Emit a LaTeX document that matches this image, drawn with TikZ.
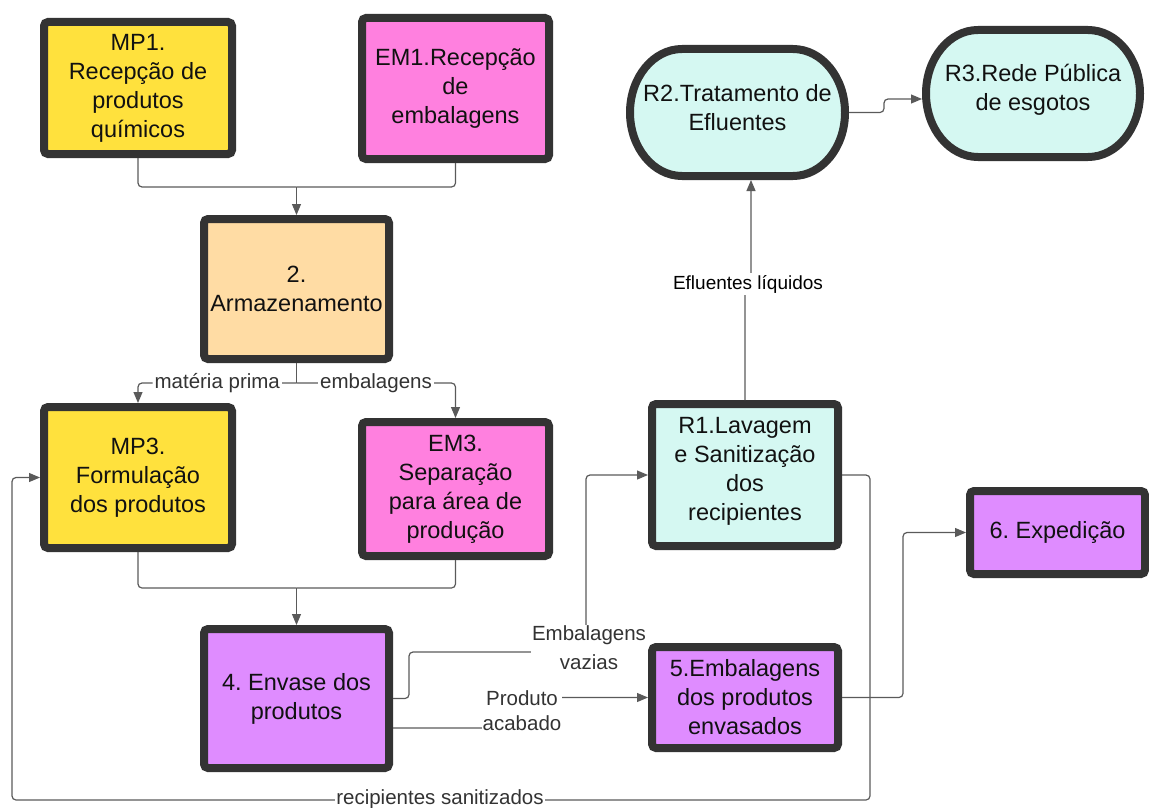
\documentclass[tikz,border=0pt]{standalone}
\usepackage{fontspec}
\setmainfont{Liberation Sans}
\usetikzlibrary{arrows.meta}
\definecolor{yel}{HTML}{FFE13D}
\definecolor{pnk}{HTML}{FF80DF}
\definecolor{org}{HTML}{FFDCA4}
\definecolor{cya}{HTML}{D5F8F2}
\definecolor{pur}{HTML}{DF8CFF}
\definecolor{bord}{HTML}{333333}
\definecolor{conc}{HTML}{5A5A5A}
\definecolor{labc}{HTML}{333333}
\definecolor{txtc}{HTML}{111111}
\frenchspacing
\tikzset{
  box/.style={draw=bord, line width=8pt, rounded corners=4pt, inner sep=0pt, outer sep=4pt,
    align=center, text=txtc, font=\fontsize{23.5}{29}\selectfont},
  term/.style={draw=bord, line width=8pt, fill=cya},
  termtext/.style={inner sep=0pt, outer sep=0pt, align=center, text=txtc, font=\fontsize{23.5}{29}\selectfont},
  conn/.style={draw=conc, line width=1.2pt, rounded corners=4pt},
  arr/.style={-{Triangle[length=11pt,width=9pt]}},
  lab/.style={fill=white, inner sep=2pt, align=center, text=labc, font=\fontsize{20.5}{25}\selectfont},
}
\begin{document}
\begin{tikzpicture}[x=1pt,y=-1pt]
\useasboundingbox (0,0) rectangle (1149,808);
% terminator shapes
\draw[term] (682,49) -- (793,49) .. controls (821.7,49) and (845,77.4) .. (845,112.5) .. controls (845,147.6) and (821.7,176) .. (793,176) -- (682,176) .. controls (653.3,176) and (630,147.6) .. (630,112.5) .. controls (630,77.4) and (653.3,49) .. (682,49) -- cycle;
\draw[term] (978,30) -- (1088,30) .. controls (1116.7,30) and (1140,58.4) .. (1140,93.5) .. controls (1140,128.6) and (1116.7,157) .. (1088,157) -- (978,157) .. controls (949.3,157) and (926,128.6) .. (926,93.5) .. controls (926,58.4) and (949.3,30) .. (978,30) -- cycle;
\node[termtext, minimum width=223pt, minimum height=135pt] (R2) at (737.5,112.5) {};
\node[termtext, minimum width=222pt, minimum height=135pt] (R3) at (1033,93.5) {};
\node[termtext] (R2t) at (737.5,108) {R2.Tratamento de\\Efluentes};
\node[termtext] (R3t) at (1033,90) {R3.Rede Pública\\de esgotos};

% coordinates
\coordinate (j1) at (296.5,187);
\coordinate (j2) at (296.5,383);
\coordinate (j3) at (296.5,588);

% boxes
\node[box, fill=yel, minimum width=188pt, minimum height=132pt] (MP1) at (138,88) {MP1.\\Recepção de\\produtos\\químicos};
\node[box, fill=pnk, minimum width=187pt, minimum height=141pt] (EM1) at (455.5,88.5) {EM1.Recepção\\de\\embalagens};
\node[box, fill=org, minimum width=185pt, minimum height=140pt] (Arm) at (296.5,289) {2.\\Armazenamento};
\node[box, fill=yel, minimum width=188pt, minimum height=141pt] (MP3) at (138,477.5) {MP3.\\Formulação\\dos produtos};
\node[box, fill=pnk, minimum width=187pt, minimum height=134pt] (EM3) at (455.5,489) {EM3.\\Separação\\para área de\\produção};
\node[box, fill=cya, minimum width=186pt, minimum height=142pt] (R1) at (745,475) {};
\node[align=center, text=txtc, font=\fontsize{23.5}{29}\selectfont, inner sep=0pt] (R1t) at (745,471) {R1.Lavagem\\e Sanitização\\dos\\recipientes};
\node[box, fill=pur, minimum width=185pt, minimum height=139pt] (P4) at (296.5,698.5) {4. Envase dos\\produtos};
\node[box, fill=pur, minimum width=186pt, minimum height=101pt] (P5) at (745,697.5) {5.Embalagens\\dos produtos\\envasados};
\node[box, fill=pur, minimum width=175pt, minimum height=83pt] (P6) at (1057.5,532.5) {6. Expedição};

% connectors
\draw[conn] (MP1.south) |- (j1);
\draw[conn] (EM1.south) |- (j1);
\draw[conn,arr] (j1) -- (Arm.north);

\draw[conn] (Arm.south) -- (j2);
\draw[conn,arr] (j2) -| node[lab,pos=0.25] (lmp) {matéria prima} (MP3.north);
\draw[conn,arr] (j2) -| node[lab,pos=0.25] (lem) {embalagens} (EM3.north);

\draw[conn] (MP3.south) |- (j3);
\draw[conn] (EM3.south) |- (j3);
\draw[conn,arr] (j3) -- (P4.north);

\draw[conn,arr] (P4.east) -- ++(16,0) |- (586,652) |- (R1.west);
\node[lab, inner sep=1pt, font=\fontsize{20.5}{29}\selectfont] (lev) at (589,648) {Embalagens\\vazias};

\draw[conn,arr] (P4.east |- 0,728) -| (522,697.5) -- (P5.west);
\node[lab, inner sep=1pt] (lpa) at (522,711) {Produto\\acabado};

\draw[conn,arr] (R1.north) -- (745,284) -- (751,284) -- (R2.south -| 751,0);
\node[lab, text=black, font=\fontsize{19}{23}\selectfont] (lef) at (748,284) {Efluentes líquidos};

\draw[conn,arr] (R2.east) -- (884,112.5) |- (R3.west |- 0,99);

\draw[conn,arr] (P5.east) -- (903,697.5) |- (P6.west);

\draw[conn,arr] (R1.east) -- (870,475) |- (12,800) |- (MP3.west);
\node[lab, inner sep=1pt] (lrs) at (440,799) {recipientes sanitizados};
\end{tikzpicture}
\end{document}
